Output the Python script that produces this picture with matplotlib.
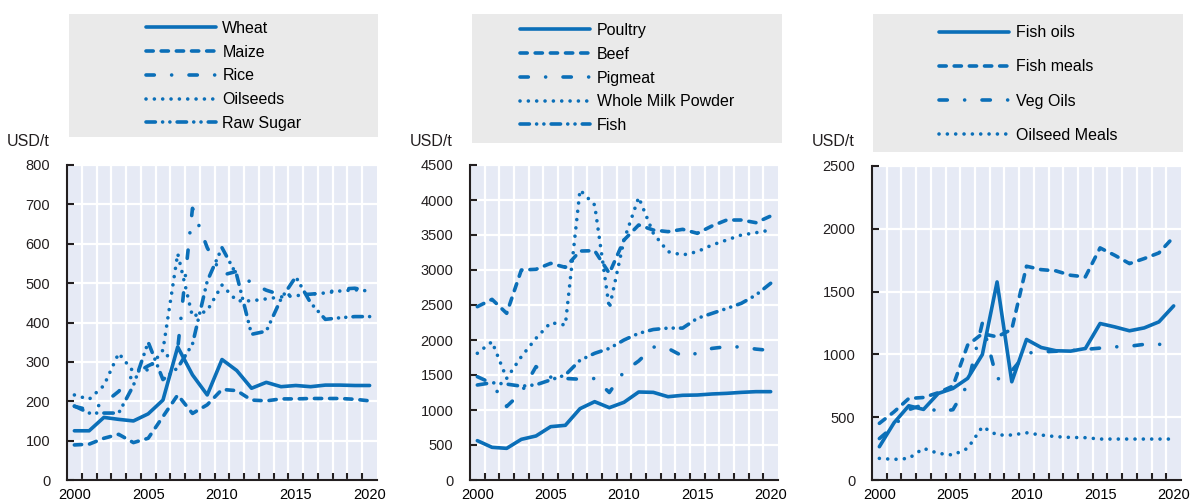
import matplotlib
matplotlib.use("Agg")
import matplotlib.pyplot as plt
from matplotlib.patches import Rectangle

# years on the x axis
years = list(range(2000, 2021))

# panel 1: crops (USD/t)
crop_names = ["Wheat", "Maize", "Rice", "Oilseeds", "Raw Sugar"]
wheat = [125, 125, 159, 154, 150, 168, 203, 338, 267, 216, 306, 278, 233, 248, 237, 240, 237, 241, 241, 240, 240]
maize = [89, 91, 106, 116, 95, 106, 161, 216, 169, 191, 230, 227, 203, 201, 206, 206, 207, 207, 207, 205, 201]
rice = [187, 178, 195, 225, 268, 290, 308, 333, 690, 590, 520, 530, 500, 482, 470, 470, 472, 475, 485, 487, 480]
oilseeds = [216, 205, 240, 322, 275, 280, 330, 575, 415, 430, 495, 455, 455, 460, 465, 468, 472, 475, 480, 483, 480]
raw_sugar = [188, 170, 170, 170, 240, 350, 255, 285, 345, 505, 590, 520, 370, 378, 460, 516, 450, 408, 412, 415, 415]

# panel 2: livestock (USD/t)
meat_names = ["Poultry", "Beef", "Pigmeat", "Whole Milk Powder", "Fish"]
poultry = [562, 467, 452, 581, 629, 762, 781, 1019, 1119, 1033, 1110, 1257, 1252, 1190, 1210, 1214, 1229, 1238, 1252, 1262, 1262]
beef = [2476, 2581, 2381, 3000, 3010, 3095, 3038, 3271, 3276, 2952, 3428, 3643, 3571, 3548, 3581, 3524, 3629, 3714, 3714, 3676, 3771]
pigmeat = [1476, 1380, 1050, 1250, 1620, 1470, 1450, 1440, 1450, 1250, 1550, 1700, 1900, 1880, 1770, 1810, 1880, 1905, 1900, 1870, 1850]
milk_powder = [1810, 1976, 1452, 1762, 2024, 2248, 2214, 4143, 3929, 2452, 3428, 4038, 3524, 3262, 3214, 3262, 3357, 3428, 3500, 3533, 3571]
fish = [1357, 1390, 1370, 1340, 1360, 1430, 1500, 1710, 1810, 1880, 2000, 2095, 2150, 2170, 2170, 2310, 2380, 2450, 2524, 2643, 2810]

# panel 3: fish and oil products (USD/t)
oil_names = ["Fish oils", "Fish meals", "Veg Oils", "Oilseed Meals"]
fish_oils = [265, 456, 591, 562, 689, 729, 809, 999, 1577, 782, 1119, 1055, 1029, 1026, 1047, 1246, 1219, 1188, 1211, 1259, 1386]
fish_meals = [451, 543, 649, 657, 695, 748, 1074, 1165, 1140, 1200, 1702, 1675, 1665, 1630, 1617, 1848, 1789, 1723, 1763, 1808, 1935]
veg_oils = [330, 430, 560, 600, 540, 560, 760, 1250, 800, 870, 1010, 1020, 1025, 1030, 1040, 1050, 1060, 1065, 1080, 1080, 1080]
oilseed_meals = [172, 164, 172, 252, 212, 199, 252, 424, 358, 358, 376, 358, 345, 339, 337, 326, 326, 326, 326, 326, 326]

BLUE = "#0B6FB8"
BG = "#E6EAF5"
BOX = "#EAEAEA"
W, H = 1191, 503

plt.rcParams["font.family"] = ["Liberation Sans", "DejaVu Sans"]

# line patterns, in units of line width
solid = "-"
dashed = (0, (2.0, 2.2))
long_dot = (0, (2.3, 4.8, 0.01, 4.8))
dotted = (0, (0.01, 2.3))
dash_dot_dot = (0, (2.6, 2.0, 0.01, 2.0, 0.01, 2.0))


def box(l, t, r, b):
    return [l / W, 1 - b / H, (r - l) / W, (b - t) / H]


fig = plt.figure(figsize=(W / 100, H / 100), dpi=100)

panels = [
    dict(pos=(67, 165, 377, 480), ymax=800, step=100,
         series=[wheat, maize, rice, oilseeds, raw_sugar], names=crop_names,
         styles=[solid, dashed, long_dot, dotted, dash_dot_dot],
         legbox=(69, 14, 378, 137), legy=76, spacing=0.55, unit_x=50),
    dict(pos=(470, 165, 778, 480), ymax=4500, step=500,
         series=[poultry, beef, pigmeat, milk_powder, fish], names=meat_names,
         styles=[solid, dashed, long_dot, dotted, dash_dot_dot],
         legbox=(472, 14, 782, 143), legy=78, spacing=0.55, unit_x=453),
    dict(pos=(872, 166, 1181, 480), ymax=2500, step=500,
         series=[fish_oils, fish_meals, veg_oils, oilseed_meals], names=oil_names,
         styles=[solid, dashed, long_dot, dotted],
         legbox=(873, 14, 1183, 152), legy=84, spacing=1.2, unit_x=855),
]

for p in panels:
    ax = fig.add_axes(box(*p["pos"]))
    ax.set_facecolor(BG)
    for vals, name, ls in zip(p["series"], p["names"], p["styles"]):
        ax.plot(years, vals, color=BLUE, lw=2.6, linestyle=ls, label=name,
                dash_capstyle="round", solid_capstyle="round", solid_joinstyle="round")

    ax.set_xlim(1999.5, 2020.5)
    ax.set_ylim(0, p["ymax"])
    ax.set_yticks(range(0, p["ymax"] + 1, p["step"]))
    ax.set_xticks([2000, 2005, 2010, 2015, 2020])
    ax.set_xticks([y + 0.5 for y in range(2000, 2020)], minor=True)
    ax.set_axisbelow(True)
    ax.yaxis.grid(True, color="white", lw=1.6)
    ax.xaxis.grid(True, which="minor", color="white", lw=1.6)
    for side in ["top", "right"]:
        ax.spines[side].set_visible(False)
    for side in ["left", "bottom"]:
        ax.spines[side].set_color("#231F20")
        ax.spines[side].set_linewidth(1.5)
    ax.tick_params(axis="y", direction="in", length=5, width=1.5, pad=12,
                   labelsize=10.5, colors="#231F20")
    ax.tick_params(axis="x", which="major", length=0, pad=6, labelsize=10.5)
    ax.tick_params(axis="x", which="minor", direction="in", length=5, width=1.5,
                   color="#231F20")

    l, t, r, b = p["legbox"]
    fig.patches.append(Rectangle((l / W, 1 - b / H), (r - l) / W, (b - t) / H,
                                 transform=fig.transFigure, facecolor=BOX,
                                 edgecolor="none", zorder=-1))
    ax.legend(loc="center", bbox_to_anchor=((l + r) / 2 / W, 1 - p["legy"] / H),
              bbox_transform=fig.transFigure, frameon=False, handlelength=4.4,
              handletextpad=0.4, labelspacing=p["spacing"], borderpad=0,
              prop={"size": 11.5})
    fig.text(p["unit_x"] / W, 1 - 141 / H, "USD/t", ha="right", va="center",
             fontsize=11.5, color="#231F20")

fig.savefig("out.png", dpi=100)
